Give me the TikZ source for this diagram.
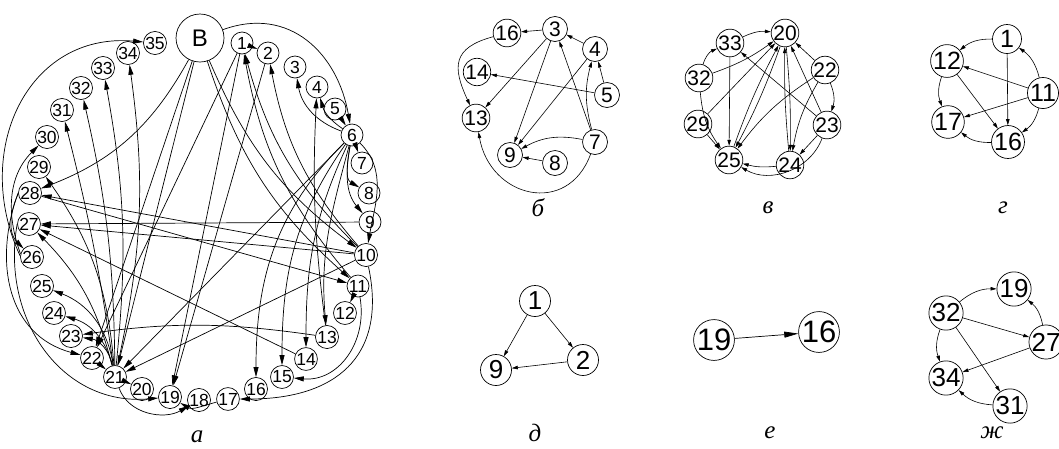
\documentclass[tikz,border=0pt]{standalone}
\usepackage{fontspec}
\newfontfamily\arial{Liberation Sans}
\newfontfamily\tnr{Liberation Serif}
\usetikzlibrary{arrows.meta}
\tikzset{
 va/.style={circle,draw,line width=0.7pt,inner sep=0pt,minimum size=22pt,font=\arial\fontsize{17.5}{17.5}\selectfont},
 ea/.style={line width=0.7pt,-{Triangle[length=10pt,width=5pt]}},
 vb/.style={circle,draw,line width=0.7pt,inner sep=0pt,minimum size=25pt,font=\arial\fontsize{21}{21}\selectfont},
 eb/.style={line width=0.6pt,-{Triangle[length=6pt,width=3.5pt]}},
 vg/.style={circle,draw,line width=0.7pt,inner sep=0pt,minimum size=29pt,font=\arial\fontsize{25}{25}\selectfont},
 vd/.style={circle,draw,line width=0.7pt,inner sep=0pt,minimum size=31pt,font=\arial\fontsize{26}{26}\selectfont},
 ve/.style={circle,draw,line width=0.7pt,inner sep=0pt,minimum size=36pt,font=\arial\fontsize{31}{31}\selectfont},
 ee/.style={line width=0.7pt,-{Triangle[length=14pt,width=6pt]}},
 lab/.style={font=\tnr\itshape\fontsize{25}{25}\selectfont,inner sep=0pt},
}
\begin{document}
\begin{tikzpicture}[x=1pt,y=-1pt]
\useasboundingbox (0,0) rectangle (1059,448);
% ---------- graph a ----------
\node[va,minimum size=48pt,font=\arial\fontsize{24}{24}\selectfont] (aB) at (200,38) {B};
\foreach \n/\x/\y in {1/242/43,2/268/53,3/295/67,4/317/87,5/335/109,6/352/135,7/362/163,8/369/193,9/370/222,10/366/255,11/358/286,12/345/313,13/327/337,14/306/359,15/282/377,16/256/389,17/228/399,18/199/400,19/170/397,20/142/389,21/115/377,22/92/358,23/71/336,24/54/313,25/42/286,26/32/257,27/29/224,28/30/193,29/39/167,30/47/137,31/62/110,32/81/88,33/103/68,34/128/53,35/155/43}
  \node[va] (a\n) at (\x,\y) {\n};
% outer arcs
\draw[ea] (aB) to[out=20,in=100,looseness=1.15] (a6);
\draw[ea] (a6) to[out=-45,in=80] (a10);
\draw[ea] (a10) to[out=-78,in=0,looseness=1.3] (a17);
\draw[ea] (a11) to[out=-80,in=-5,looseness=1.1] (a15);
\draw[ea] (a26.175) to[out=115,in=175,looseness=1.2] (a35);
\draw[ea] (a26.165) to[out=110,in=-135] (a30);
\draw[ea] (a28.185) to[out=-115,in=135] (a26);
\draw[ea] (a28.180) to[out=-110,in=165,looseness=1.1] (a22);
\draw[ea] (a27.180) to[out=-100,in=185,looseness=1.1] (a19);
\draw[ea] (a21) to[out=-70,in=-150] (a18);
\draw[ea] (a17) to[out=-165,in=-30] (a19);
% short arrows
\draw[ea] (a1) -- (a2);
\draw[ea] (a5) -- (a6);
\draw[ea] (a6) -- (a7);
\draw[ea] (a6) to[out=-100,in=150] (a8);
\draw[ea] (a6) to[out=-100,in=130] (a9);
\draw[ea] (a6) to[bend left=30] (a3);
\draw[ea] (a6) to[bend left=20] (a4);
\draw[ea] (a11) -- (a12);
\draw[ea] (a22) -- (a21);
\draw[ea] (a21) -- (a20);
% fan from 6
\draw[ea] (a13) to[bend left=5] (a4);
\draw[ea] (a6) to[out=-105,in=95] (a13);
\draw[ea] (a6) to[out=-115,in=90] (a14);
\draw[ea] (a6) to[out=-125,in=90] (a15);
\draw[ea] (a6) to[out=-135,in=90] (a16);
\draw[ea] (a6) -- (a21);
% long lines
\draw[ea] (a9) -- (a27);
\draw[ea] (a10) -- (a27);
\draw[ea] (a10) -- (a28);
\draw[ea] (a14) -- (a27);
\draw[ea] (a10) -- (a21);
\draw[ea] (a13) to[bend right=8] (a23);
\draw[ea] (a28) -- (a11);
\draw[ea] (aB) to[bend right=15] (a10);
\draw[ea] (aB) to[bend right=15] (a11);
\draw[ea] (a10) to[bend left=15] (a1);
\draw[ea] (a11) to[bend left=15] (a1);
\draw[ea] (a10) to[bend left=15] (a2);
\draw[ea] (a1) -- (a19);
\draw[ea] (a2) -- (a19);
\draw[ea] (a1) -- (a22);
\draw[ea] (aB) -- (a21);
\draw[ea] (aB) -- (a22);
\draw[ea] (aB) to[bend left=20] (a28);
% fan from 21
\draw[ea] (a21) to[bend right=10] (a34);
\draw[ea] (a21) to[bend right=8] (a33);
\draw[ea] (a21) to[bend right=6] (a32);
\draw[ea] (a21) to[bend right=3] (a31);
\draw[ea] (a21) to[bend right=15] (a29);
\draw[ea] (a21) to[bend right=15] (a27);
\draw[ea] (a21) to[bend right=30] (a25);
\draw[ea] (a21) to[bend right=30] (a24);
\draw[ea] (a21) to[bend right=35] (a23);
\node[lab] (la) at (197,437) {а};
% ---------- graph b ----------
\foreach \n/\x/\y in {3/555/29,4/595/49,5/607/95,7/595/142,8/555/163,9/510/155,13/476/118,14/477/72,16/507/33}
  \node[vb] (b\n) at (\x,\y) {\n};
\draw[eb] (b3) -- (b16);
\draw[eb] (b4) -- (b3);
\draw[eb] (b5) -- (b4);
\draw[eb] (b5) -- (b14);
\draw[eb] (b7) -- (b3);
\draw[eb] (b7) to[bend left=15] (b4);
\draw[eb] (b7) to[bend right=20] (b9);
\draw[eb] (b8) -- (b9);
\draw[eb] (b3) -- (b9);
\draw[eb] (b3) -- (b13);
\draw[eb] (b4) -- (b9);
\draw[eb] (b16) to[out=-165,in=115,looseness=1.5] (b13);
\draw[eb] (b7) to[out=-110,in=-80,looseness=1.5] (b13);
\node[lab] (lb) at (538,208) {б};
% ---------- graph v ----------
\foreach \n/\x/\y in {20/785/33,33/730/43,32/699/78,29/698/124,25/729/160,24/790/165,23/827/125,22/825/70}
  \node[vb] (c\n) at (\x,\y) {\n};
\draw[eb] (c33) to[bend left=15] (c20);
\draw[eb] (c32) to[bend left=25] (c33);
\draw[eb] (c32) to[bend right=8] (c20);
\draw[eb] (c32) to[bend right=15] (c25);
\draw[eb] (c33) -- (c25);
\draw[eb] (c29) -- (c20);
\draw[eb] (c29) -- (c25);
\draw[eb] (c25) to[bend left=4] (c20);
\draw[eb] (c20) to[bend left=4] (c25);
\draw[eb] (c22) -- (c20);
\draw[eb] (c22) to[bend left=20] (c23);
\draw[eb] (c22) to[bend right=10] (c25);
\draw[eb] (c22) to[bend right=10] (c24);
\draw[eb] (c23) -- (c33);
\draw[eb] (c23) -- (c20);
\draw[eb] (c23) -- (c24);
\draw[eb] (c24) to[bend left=10] (c25);
\draw[eb] (c23) to[bend left=50] (c25);
\draw[eb] (c24) to[bend left=3] (c20);
\draw[eb] (c20) to[bend left=3] (c24);
\node[lab] (lc) at (768,208) {в};
% ---------- graph g ----------
\foreach \n/\x/\y in {1/1007/39,12/947/61,11/1043/93,17/948/122,16/1008/142}
  \node[vg] (d\n) at (\x,\y) {\n};
\draw[eb] (d1) to[bend right=20] (d12);
\draw[eb] (d11) to[bend right=20] (d1);
\draw[eb] (d11) -- (d12);
\draw[eb] (d11) -- (d17);
\draw[eb] (d11) to[bend left=20] (d16);
\draw[eb] (d1) -- (d16);
\draw[eb] (d12) -- (d16);
\draw[eb] (d12) to[bend right=20] (d17);
\draw[eb] (d16) to[bend left=20] (d17);
\node[lab] (ld) at (1003,208) {г};
% ---------- graph d ----------
\foreach \n/\x/\y in {1/535/301,9/496/370,2/583/360}
  \node[vd] (e\n) at (\x,\y) {\n};
\draw[eb] (e1) -- (e9);
\draw[eb] (e1) -- (e2);
\draw[eb] (e2) -- (e9);
\node[lab] (le) at (535,433) {д};
% ---------- graph e ----------
\node[ve] (f19) at (714,340) {19};
\node[ve] (f16) at (819,332) {16};
\draw[ee] (f19) -- (f16);
\node[lab] (lf) at (770,433) {е};
% ---------- graph zh ----------
\foreach \n/\x/\y in {32/946/313,19/1014/289,27/1046/342,34/946/378,31/1010/406}
  \node[vd] (g\n) at (\x,\y) {\n};
\draw[eb] (g32) to[bend left=20] (g19);
\draw[eb] (g27) to[bend right=20] (g19);
\draw[eb] (g32) -- (g27);
\draw[eb] (g32) -- (g31);
\draw[eb] (g32) to[bend right=20] (g34);
\draw[eb] (g27) -- (g34);
\draw[eb] (g31) to[bend left=20] (g34);
\node[lab] (lg) at (992,433) {ж};
\end{tikzpicture}
\end{document}
